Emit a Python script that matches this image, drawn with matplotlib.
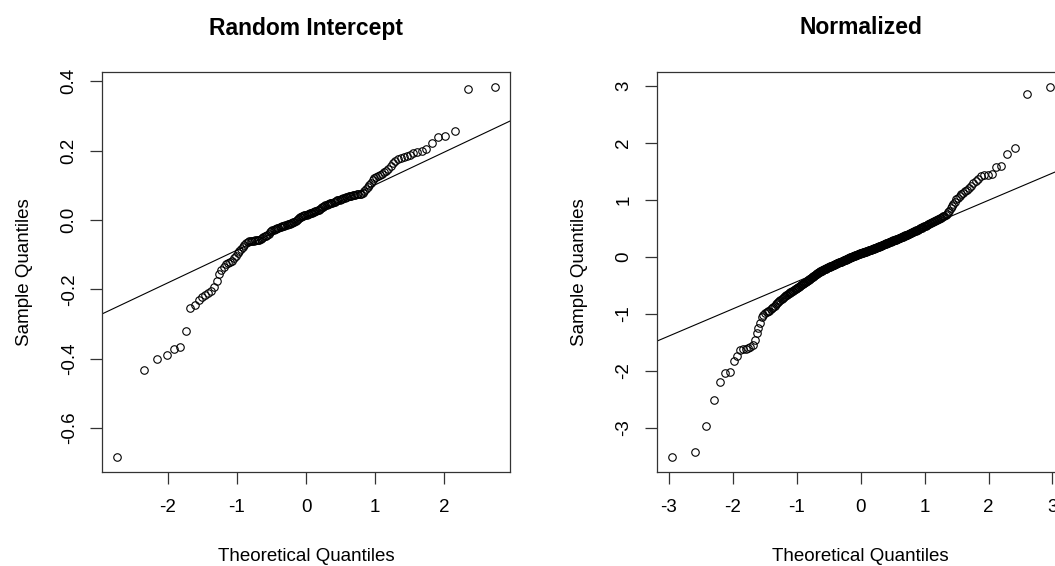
import numpy as np
import matplotlib
matplotlib.use("Agg")
import matplotlib.pyplot as plt
from statistics import NormalDist

plt.rcParams["font.family"] = ["Liberation Sans", "DejaVu Sans"]

# --- Sorted sample values ---
# Painel esquerdo: "Random Intercept" (n = 158)
random_intercept = [
    -0.684, -0.434, -0.402, -0.388, -0.373, -0.366, -0.320, -0.254, -0.245, -0.232,
    -0.222, -0.215, -0.210, -0.204, -0.194, -0.175, -0.157, -0.143, -0.136, -0.128,
    -0.124, -0.121, -0.117, -0.111, -0.104, -0.096, -0.089, -0.083, -0.077, -0.072,
    -0.067, -0.063, -0.062, -0.061, -0.060, -0.060, -0.059, -0.058, -0.057, -0.057,
    -0.055, -0.052, -0.049, -0.047, -0.045, -0.042, -0.039, -0.036, -0.033, -0.030,
    -0.028, -0.027, -0.025, -0.024, -0.023, -0.021, -0.020, -0.018, -0.017, -0.016,
    -0.015, -0.014, -0.013, -0.012, -0.011, -0.010, -0.009, -0.007, -0.005, -0.002,
    0.001, 0.004, 0.007, 0.009, 0.010, 0.011, 0.012, 0.013, 0.014,
    0.015, 0.016, 0.017, 0.019, 0.020, 0.021, 0.023, 0.024, 0.026, 0.027,
    0.029, 0.030, 0.032, 0.034, 0.036, 0.038, 0.040, 0.042, 0.044, 0.045,
    0.047, 0.048, 0.049, 0.050, 0.051, 0.053, 0.055, 0.057, 0.058, 0.059,
    0.060, 0.061, 0.063, 0.064, 0.065, 0.066, 0.068, 0.069, 0.070, 0.071,
    0.072, 0.073, 0.074, 0.074, 0.075, 0.076, 0.079, 0.085, 0.090, 0.095,
    0.101, 0.108, 0.115, 0.120, 0.124, 0.127, 0.130, 0.133, 0.137, 0.141,
    0.147, 0.155, 0.163, 0.170, 0.175, 0.179, 0.182, 0.185, 0.188, 0.192,
    0.196, 0.200, 0.204, 0.222, 0.238, 0.243, 0.256, 0.377, 0.384,
]

# Painel direito: "Normalized" (n = 320)
normalized = [
    -3.51, -3.42, -2.965, -2.51, -2.19, -2.03, -2.01, -1.83, -1.74, -1.64,
    -1.62, -1.61, -1.59, -1.58, -1.55, -1.45, -1.34, -1.24, -1.15, -1.06,
    -1.02, -0.985, -0.97, -0.955, -0.94, -0.92, -0.90, -0.88, -0.855, -0.83,
    -0.81, -0.79, -0.77, -0.75, -0.735, -0.72, -0.705, -0.69, -0.675, -0.66,
    -0.65, -0.64, -0.63, -0.62, -0.61, -0.60, -0.59, -0.58, -0.57, -0.56,
    -0.55, -0.54, -0.53, -0.52, -0.51, -0.50, -0.49, -0.48, -0.47, -0.46,
    -0.452, -0.443, -0.434, -0.425, -0.416, -0.407, -0.398, -0.389, -0.38, -0.37,
    -0.362, -0.353, -0.345, -0.336, -0.328, -0.319, -0.311, -0.302, -0.294, -0.285,
    -0.279, -0.273, -0.267, -0.261, -0.255, -0.249, -0.243, -0.237, -0.231, -0.225,
    -0.220, -0.215, -0.210, -0.205, -0.200, -0.195, -0.190, -0.185, -0.180, -0.175,
    -0.171, -0.166, -0.162, -0.157, -0.153, -0.148, -0.144, -0.139, -0.135, -0.130,
    -0.126, -0.122, -0.118, -0.114, -0.110, -0.106, -0.102, -0.098, -0.094, -0.090,
    -0.086, -0.082, -0.078, -0.074, -0.070, -0.066, -0.062, -0.058, -0.054, -0.050,
    -0.046, -0.042, -0.038, -0.034, -0.030, -0.026, -0.022, -0.018, -0.014, -0.010,
    -0.006, -0.003, 0.001, 0.004, 0.008, 0.011, 0.015, 0.018, 0.022, 0.025,
    0.028, 0.032, 0.035, 0.039, 0.042, 0.046, 0.049, 0.053, 0.056, 0.060,
    0.063, 0.066, 0.069, 0.072, 0.075, 0.078, 0.081, 0.084, 0.087, 0.090,
    0.094, 0.097, 0.101, 0.104, 0.108, 0.111, 0.115, 0.118, 0.122, 0.125,
    0.129, 0.132, 0.136, 0.139, 0.143, 0.146, 0.150, 0.153, 0.157, 0.160,
    0.164, 0.167, 0.171, 0.174, 0.178, 0.181, 0.185, 0.188, 0.192, 0.195,
    0.199, 0.203, 0.207, 0.211, 0.215, 0.219, 0.223, 0.227, 0.231, 0.235,
    0.239, 0.243, 0.247, 0.251, 0.255, 0.259, 0.263, 0.267, 0.271, 0.275,
    0.279, 0.283, 0.287, 0.291, 0.295, 0.299, 0.303, 0.307, 0.311, 0.315,
    0.320, 0.324, 0.329, 0.333, 0.338, 0.342, 0.347, 0.351, 0.356, 0.360,
    0.365, 0.370, 0.375, 0.380, 0.385, 0.390, 0.395, 0.400, 0.405, 0.410,
    0.416, 0.422, 0.428, 0.434, 0.440, 0.446, 0.452, 0.458, 0.464, 0.470,
    0.477, 0.484, 0.491, 0.498, 0.505, 0.512, 0.519, 0.526, 0.533, 0.540,
    0.548, 0.556, 0.564, 0.572, 0.580, 0.588, 0.596, 0.604, 0.612, 0.620,
    0.63, 0.64, 0.65, 0.66, 0.67, 0.68, 0.69, 0.70, 0.71, 0.72,
    0.74, 0.76, 0.78, 0.81, 0.85, 0.89, 0.93, 0.97, 1.01, 1.04,
    1.07, 1.10, 1.12, 1.15, 1.18, 1.21, 1.25, 1.29, 1.33, 1.37,
    1.41, 1.43, 1.44, 1.46, 1.58, 1.60, 1.80, 1.90, 2.85, 2.98,
]

titles = ["Random Intercept", "Normalized"]
xticks_left = [-2, -1, 0, 1, 2]
xticks_right = [-3, -2, -1, 0, 1, 2, 3]
yticks_left = [-0.6, -0.4, -0.2, 0.0, 0.2, 0.4]
ytick_labels_left = ["-0.6", "-0.4", "-0.2", "0.0", "0.2", "0.4"]
yticks_right = [-3, -2, -1, 0, 1, 2, 3]


def quantis_teoricos(n):
    """Como o ppoints() do R: (i - a) / (n + 1 - 2a), a = 0.5 para n > 10."""
    a = 3 / 8 if n <= 10 else 0.5
    p = (np.arange(1, n + 1) - a) / (n + 1 - 2 * a)
    return np.array([NormalDist().inv_cdf(v) for v in p])


def limites_r(v):
    lo, hi = np.min(v), np.max(v)
    d = 0.04 * (hi - lo)
    return lo - d, hi + d


def painel_qq(ax, amostra, titulo, xticks, yticks, ylabels=None):
    y = np.sort(np.asarray(amostra))
    x = quantis_teoricos(len(y))
    ax.plot(x, y, linestyle="none", marker="o", markersize=5.4,
            markerfacecolor="none", markeredgecolor="black", markeredgewidth=0.8)

    # qqline: reta pelos 1o e 3o quartis
    q1, q3 = np.quantile(y, [0.25, 0.75])
    z1, z3 = NormalDist().inv_cdf(0.25), NormalDist().inv_cdf(0.75)
    ax.axline((z1, q1), (z3, q3), color="black", linewidth=0.8)

    ax.set_xlim(*limites_r(x))
    ax.set_ylim(*limites_r(y))
    ax.set_xticks(xticks)
    ax.set_xticklabels([str(t) for t in xticks])
    ax.set_yticks(yticks)
    ax.set_yticklabels(ylabels if ylabels else [str(t) for t in yticks])
    for lbl in ax.get_yticklabels():
        lbl.set_rotation(90)
        lbl.set_va("center")

    ax.tick_params(length=8.5, width=0.9, labelsize=13.5, pad=11, color="#333333")
    ax.tick_params(axis="y", pad=9)
    for s in ax.spines.values():
        s.set_linewidth(0.9)
        s.set_color("#333333")

    ax.set_title(titulo, fontsize=16.5, fontweight="bold", pad=27)
    ax.set_xlabel("Theoretical Quantiles", fontsize=13.5, labelpad=23)
    ax.set_ylabel("Sample Quantiles", fontsize=13.5, labelpad=20)


fig = plt.figure(figsize=(10.55, 5.66), dpi=100)
ax1 = fig.add_axes([102 / 1055, 94 / 566, 408 / 1055, 400 / 566])
ax2 = fig.add_axes([656.7 / 1055, 94 / 566, 408 / 1055, 400 / 566])

painel_qq(ax1, random_intercept, titles[0], xticks_left, yticks_left, ytick_labels_left)
painel_qq(ax2, normalized, titles[1], xticks_right, yticks_right)

fig.savefig("out.png", dpi=100)
